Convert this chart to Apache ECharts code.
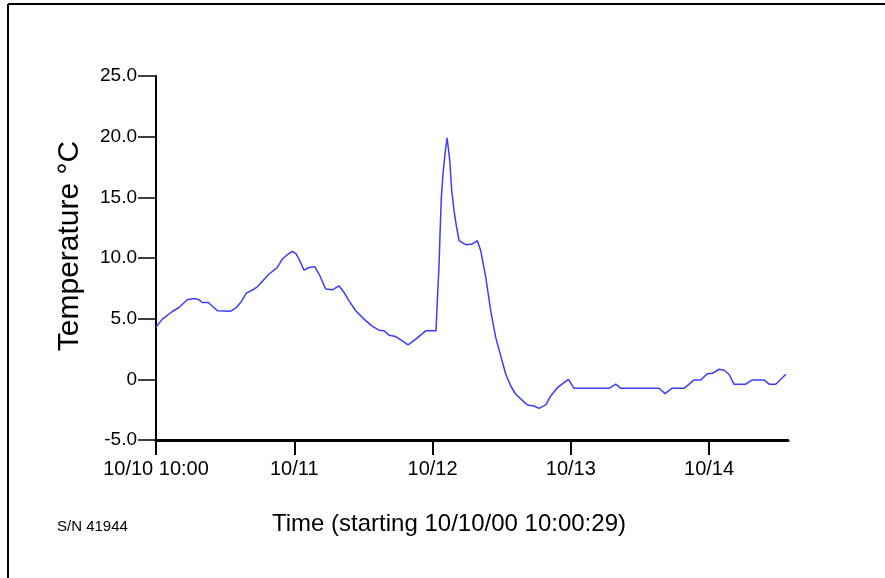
<!DOCTYPE html>
<html>
<head>
<meta charset="utf-8">
<script src="https://cdn.jsdelivr.net/npm/echarts@6/dist/echarts.min.js"></script>
<style>
html,body{margin:0;padding:0;background:#fff;}
#chart{width:885px;height:578px;}
</style>
</head>
<body>
<div id="chart"></div>
<script>
// Hours elapsed since 10/10/00 10:00:29
var timeHours = [0, 1.09, 2.83, 4.0, 5.43, 6.6, 7.46, 8.04, 9.08, 10.64, 12.97, 13.84, 14.7, 15.68, 16.72, 17.59, 18.75, 19.62, 20.48, 21.06, 21.93, 22.8, 23.66, 24.25, 24.82, 25.69, 26.56, 27.55, 28.3, 29.46, 30.61, 31.77, 32.64, 33.5, 34.67, 36.11, 37.45, 38.71, 39.58, 40.45, 41.61, 42.76, 43.75, 45.08, 46.82, 48.6, 48.83, 49.13, 49.3, 49.53, 49.82, 50.17, 50.52, 50.69, 50.99, 51.33, 51.73, 52.13, 52.6, 53.76, 54.91, 55.78, 56.37, 57.24, 58.1, 58.97, 59.84, 60.71, 61.58, 62.44, 63.59, 64.46, 65.62, 66.49, 67.65, 68.52, 69.67, 70.83, 71.58, 72.57, 78.64, 79.8, 80.67, 87.32, 88.36, 89.52, 91.66, 93.4, 94.56, 95.71, 96.57, 97.74, 98.6, 99.46, 100.33, 102.36, 103.51, 105.55, 106.42, 107.58, 109.32];
// Temperature in °C
var temps = [4.3, 4.96, 5.59, 5.92, 6.56, 6.67, 6.56, 6.33, 6.33, 5.65, 5.62, 5.87, 6.33, 7.11, 7.36, 7.63, 8.23, 8.68, 9.0, 9.22, 9.92, 10.27, 10.55, 10.38, 9.92, 9.0, 9.22, 9.28, 8.68, 7.44, 7.38, 7.71, 7.16, 6.47, 5.65, 4.96, 4.41, 4.05, 4.0, 3.64, 3.53, 3.17, 2.84, 3.31, 4.0, 4.0, 6.47, 9.4, 11.98, 15.0, 16.94, 18.59, 19.91, 19.27, 18.03, 15.56, 13.9, 12.67, 11.43, 11.1, 11.16, 11.43, 10.6, 8.4, 5.65, 3.44, 1.93, 0.42, -0.55, -1.23, -1.73, -2.11, -2.2, -2.39, -2.11, -1.37, -0.69, -0.27, 0.0, -0.74, -0.74, -0.4, -0.74, -0.74, -1.18, -0.74, -0.74, -0.05, -0.05, 0.47, 0.5, 0.83, 0.75, 0.42, -0.4, -0.4, -0.05, -0.05, -0.4, -0.4, 0.42];
var xTickLabels = ['10/10 10:00', '10/11', '10/12', '10/13', '10/14'];
var yTickLabels = ['-5.0', '0', '5.0', '10.0', '15.0', '20.0', '25.0'];
var yMin = -5, yMax = 25, yStep = 5;
var xMin = 0, xMax = 109.7, xStep = 24;
var yTitle = 'Temperature °C';
var xTitle = 'Time (starting 10/10/00 10:00:29)';
var serialText = 'S/N 41944';

var seriesData = timeHours.map(function (h, i) { return [h, temps[i]]; });
var FONT = '"Liberation Sans", Arial, sans-serif';

var chart = echarts.init(document.getElementById('chart'), null, {renderer: 'canvas'});
chart.setOption({
  animation: false,
  backgroundColor: '#ffffff',
  grid: {left: 156, right: 97, top: 76, bottom: 138, containLabel: false},
  xAxis: {
    type: 'value', min: xMin, max: xMax, interval: xStep,
    axisLine: {show: true, onZero: false, lineStyle: {color: '#000', width: 3}},
    axisTick: {show: true, inside: false, length: 15, lineStyle: {color: '#000', width: 2}},
    splitLine: {show: false},
    axisLabel: {
      show: true, margin: 19, color: '#000', fontFamily: FONT, fontSize: 20,
      showMaxLabel: false,
      formatter: function (v) {
        var idx = Math.round(v / xStep);
        if (Math.abs(v - idx * xStep) > 1e-6) return '';
        return xTickLabels[idx] || '';
      }
    }
  },
  yAxis: {
    type: 'value', min: yMin, max: yMax, interval: yStep,
    axisLine: {show: true, lineStyle: {color: '#000', width: 2}},
    axisTick: {show: true, inside: false, length: 18, lineStyle: {color: '#000', width: 1.5}},
    splitLine: {show: false},
    axisLabel: {
      show: true, margin: 19, color: '#000', fontFamily: FONT, fontSize: 19,
      verticalAlign: 'middle', padding: [0, 0, 12, 0],
      formatter: function (v) {
        var idx = Math.round((v - yMin) / yStep);
        return yTickLabels[idx];
      }
    }
  },
  series: [{
    type: 'line',
    data: seriesData,
    showSymbol: false,
    smooth: false,
    lineStyle: {color: '#3c3cff', width: 1.5},
    itemStyle: {color: '#3c3cff'}
  }],
  graphic: [
    {type: 'line', shape: {x1: 8, y1: 4, x2: 885, y2: 4}, style: {stroke: '#000', lineWidth: 2}},
    {type: 'line', shape: {x1: 8, y1: 4, x2: 8, y2: 578}, style: {stroke: '#000', lineWidth: 2}},
    {type: 'text', x: 70, y: 246, rotation: Math.PI / 2,
      style: {text: yTitle, fill: '#000', font: '30px ' + FONT, textAlign: 'center', textVerticalAlign: 'middle'}},
    {type: 'text', x: 272, y: 524,
      style: {text: xTitle, fill: '#000', font: '24px ' + FONT, textAlign: 'left', textVerticalAlign: 'middle'}},
    {type: 'text', x: 57, y: 527,
      style: {text: serialText, fill: '#000', font: '15px ' + FONT, textAlign: 'left', textVerticalAlign: 'middle'}}
  ]
});
</script>
</body>
</html>
